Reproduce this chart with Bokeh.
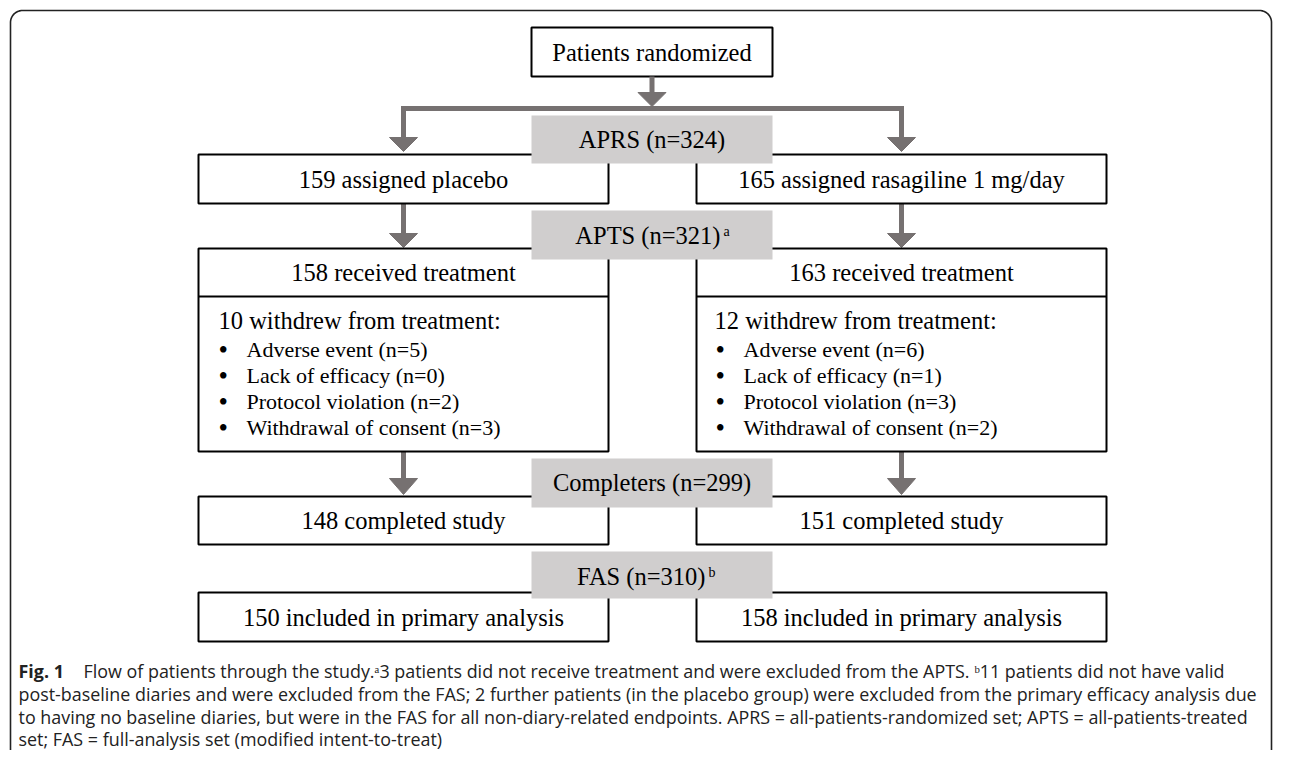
import numpy as np
from bokeh.plotting import figure
from bokeh.models import Range1d, ColumnDataSource
from bokeh.core.properties import value
from bokeh.embed import file_html
from bokeh.resources import INLINE

# ---------------- data ----------------
top_label = "Patients randomized"
set_names = ["APRS", "APTS", "Completers", "FAS"]
set_counts = [324, 321, 299, 310]
set_notes = ["", "a", "", "b"]
arm_labels = ["placebo", "rasagiline 1 mg/day"]
assigned = [159, 165]
received = [158, 163]
withdrew = [10, 12]
reasons = ["Adverse event", "Lack of efficacy", "Protocol violation", "Withdrawal of consent"]
reasons_placebo = [5, 0, 2, 3]
reasons_rasagiline = [6, 1, 3, 2]
completed = [148, 151]
primary = [150, 158]

caption_bold = "Fig. 1"
caption_lines = [
    "Flow of patients through the study.\u1d433 patients did not receive treatment and were excluded from the APTS. \u1d4711 patients did not have valid",
    "post-baseline diaries and were excluded from the FAS; 2 further patients (in the placebo group) were excluded from the primary efficacy analysis due",
    "to having no baseline diaries, but were in the FAS for all non-diary-related endpoints. APRS = all-patients-randomized set; APTS = all-patients-treated",
    "set; FAS = full-analysis set (modified intent-to-treat)",
]

# ---------------- styles ----------------
W, H = 1274, 750
ARROW = "#767171"
GRAY = "#d0cece"
SERIF = value("Liberation Serif")
SANS = value("Open Sans")

p = figure(width=W, height=H, output_backend="svg", toolbar_location=None,
           x_range=Range1d(0, W), y_range=Range1d(H, 0),
           min_border=0, outline_line_color=None)
p.axis.visible = False
p.grid.visible = False
p.background_fill_color = "white"
p.border_fill_color = "white"

# outer rounded frame
r = 12
L, T, R, B = 10, 10, 1271, 775
a1 = np.linspace(np.pi, 1.5 * np.pi, 20)
a2 = np.linspace(1.5 * np.pi, 2 * np.pi, 20)
fx = np.concatenate([[L], L + r + r * np.cos(a1), R - r + r * np.cos(a2), [R]])
fy = np.concatenate([[B], T + r + r * np.sin(a1), T + r + r * np.sin(a2), [B]])
p.line(fx, fy, line_color="#222222", line_width=1.6)

# columns
cx = [403, 901]
bx0 = [198, 696]
bx1 = [608, 1106]
mid = 651.5

def head(xc, ytop, ytip, w=28):
    return [xc - w / 2, xc + w / 2, xc], [ytop, ytop, ytip]

def stem(x, y0, y1):
    p.segment(x0=[x], y0=[y0], x1=[x], y1=[y1], line_color=ARROW, line_width=5)

heads_x, heads_y = [], []

# top box + branch
p.quad(left=[531], right=[772], top=[27], bottom=[76], fill_color="white",
       line_color="black", line_width=2)
stem(mid, 76, 93)
hx, hy = head(mid, 92, 106); heads_x.append(hx); heads_y.append(hy)
p.multi_line(xs=[[cx[0], cx[0], cx[1], cx[1]]], ys=[[138, 108, 108, 138]],
             line_color=ARROW, line_width=5, line_join="miter")
for c in cx:
    hx, hy = head(c, 137, 151); heads_x.append(hx); heads_y.append(hy)
    stem(c, 203, 234)
    hx, hy = head(c, 233, 247); heads_x.append(hx); heads_y.append(hy)
    stem(c, 451, 479)
    hx, hy = head(c, 478, 494); heads_x.append(hx); heads_y.append(hy)
p.patches(heads_x, heads_y, fill_color=ARROW, line_color=ARROW, line_width=1)

# white boxes
p.quad(left=bx0 * 4, right=bx1 * 4,
       top=[154, 154, 248, 248, 496, 496, 592, 592],
       bottom=[203, 203, 451, 451, 544, 544, 641, 641],
       fill_color="white", line_color="black", line_width=2)
p.segment(x0=bx0, y0=[296, 296], x1=bx1, y1=[296, 296], line_color="black", line_width=2)

# gray set boxes
gy0 = [115, 210, 458, 551]
gy1 = [163, 259, 507, 598]
p.quad(left=[531] * 4, right=[772] * 4, top=gy0, bottom=gy1,
       fill_color=GRAY, line_color=None)

def txt(xs, ys, texts, size="24.5px", align="center", font=SERIF, style="normal", color="black"):
    src = ColumnDataSource(dict(x=xs, y=ys, t=texts))
    p.text(x="x", y="y", text="t", source=src, text_font=font, text_font_size=size,
           text_align=align, text_baseline="middle", text_color=color,
           text_font_style=style)

txt([mid], [52], [top_label])

# set labels
set_y = [139, 235, 482, 576]
plain_x, plain_y, plain_t = [], [], []
for name, n, note, y in zip(set_names, set_counts, set_notes, set_y):
    label = f"{name} (n={n})"
    if note:
        right = 720 if note == "a" else 705
        txt([right], [y], [label], align="right")
        txt([right + 3], [y - 4], [note], size="14px", align="left")
    else:
        plain_x.append(mid); plain_y.append(y); plain_t.append(label)
txt(plain_x, plain_y, plain_t)

# arm boxes
txt(cx, [179, 179], [f"{n} assigned {a}" for n, a in zip(assigned, arm_labels)])
txt(cx, [272, 272], [f"{n} received treatment" for n in received])
txt([218, 714], [320, 320], [f"{n} withdrew from treatment:" for n in withdrew], align="left")
bullet_y = [349, 375, 401, 427]
for bxl, counts in zip([218, 715], [reasons_placebo, reasons_rasagiline]):
    txt([bxl] * 4, bullet_y, ["\u2022"] * 4, size="27px", align="left")
    txt([bxl + 28] * 4, bullet_y, [f"{rs} (n={c})" for rs, c in zip(reasons, counts)],
        size="22px", align="left")
txt(cx, [520, 520], [f"{n} completed study" for n in completed])
txt(cx, [617, 617], [f"{n} included in primary analysis" for n in primary])

# caption
CS = "17.9px"
CC = "#222222"
cap_y = [670, 693, 716, 738.5]
txt([18], [cap_y[0]], [caption_bold], size=CS, align="left", font=SANS, style="bold", color=CC)
txt([83], [cap_y[0]], [caption_lines[0]], size=CS, align="left", font=SANS, color=CC)
txt([18] * 3, cap_y[1:], caption_lines[1:], size=CS, align="left", font=SANS, color=CC)

open("out.html", "w").write(file_html(p, INLINE))
